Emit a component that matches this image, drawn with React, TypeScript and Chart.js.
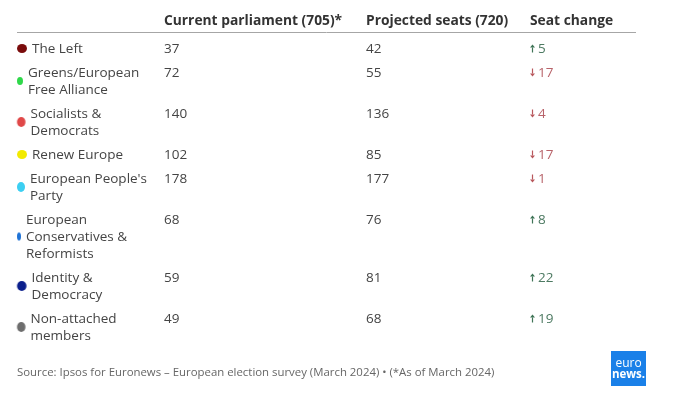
import React, { useEffect, useRef } from "react";
import { Chart, registerables } from "chart.js";

Chart.register(...registerables);

const headers = ["Current parliament (705)*", "Projected seats (720)", "Seat change"];
const partyLines: string[][] = [
  ["The Left"],
  ["Greens/European", "Free Alliance"],
  ["Socialists &", "Democrats"],
  ["Renew Europe"],
  ["European People's", "Party"],
  ["European", "Conservatives &", "Reformists"],
  ["Identity &", "Democracy"],
  ["Non-attached", "members"],
];
const currentSeats = [37, 72, 140, 102, 178, 68, 59, 49];
const projectedSeats = [42, 55, 136, 85, 177, 76, 81, 68];
const seatChange = [5, -17, -4, -17, -1, 8, 22, 19];
const partyColors = ["#7a0c0c", "#2fd84a", "#e04848", "#f2ea00", "#3ccff2", "#1f73d6", "#0b1f8c", "#6e6e6e"];
const dotSizes: [number, number][] = [[10, 9], [6, 8], [8.5, 10], [10, 9], [8, 10], [4, 8], [9.5, 10], [8.5, 10]];
const sourceText = "Source: Ipsos for Euronews – European election survey (March 2024) • (*As of March 2024)";

const FONT = "'Open Sans', 'Noto Sans', sans-serif";
const LINE_H = 17;
const PAD = 3.5;
const FIRST_TOP = 35.5;
const LEFT = 17;
const COL_X = [164, 366, 530];
const TXT_DY = 1.5;

function rowTops(): number[] {
  const tops: number[] = [];
  let t = FIRST_TOP;
  partyLines.forEach((l) => {
    tops.push(t);
    t += l.length * LINE_H + 2 * PAD;
  });
  return tops;
}

function makeDot(color: string, w: number, h: number): HTMLCanvasElement {
  const c = document.createElement("canvas");
  c.width = Math.ceil(w) + 2;
  c.height = Math.ceil(h) + 2;
  const g = c.getContext("2d")!;
  g.fillStyle = color;
  g.beginPath();
  g.ellipse(c.width / 2, c.height / 2, w / 2, h / 2, 0, 0, Math.PI * 2);
  g.fill();
  return c;
}

const tablePlugin = {
  id: "tableText",
  afterDatasetsDraw(chart: any) {
    const ctx = chart.ctx as CanvasRenderingContext2D;
    const xs = chart.scales.x;
    const ys = chart.scales.y;
    const px = (v: number) => xs.getPixelForValue(v);
    const py = (v: number) => ys.getPixelForValue(v);
    ctx.save();
    ctx.textBaseline = "middle";
    ctx.textAlign = "left";
    // header
    ctx.font = `bold 13.8px ${FONT}`;
    ctx.fillStyle = "#333333";
    headers.forEach((h, i) => ctx.fillText(h, px(COL_X[i]), py(19.5 + TXT_DY)));
    ctx.strokeStyle = "#a6a6a6";
    ctx.lineWidth = 1;
    ctx.beginPath();
    ctx.moveTo(px(LEFT), py(32.5));
    ctx.lineTo(px(636), py(32.5));
    ctx.stroke();

    const tops = rowTops();
    ctx.font = `13.5px ${FONT}`;
    partyLines.forEach((lines, i) => {
      const top = tops[i];
      const firstY = top + PAD + LINE_H / 2;
      const labelX = LEFT + dotSizes[i][0] + 5;
      ctx.fillStyle = "#444444";
      lines.forEach((ln, j) => ctx.fillText(ln, px(labelX), py(firstY + j * LINE_H + TXT_DY)));
      ctx.fillText(String(currentSeats[i]), px(COL_X[0]), py(firstY + TXT_DY));
      ctx.fillText(String(projectedSeats[i]), px(COL_X[1]), py(firstY + TXT_DY));
      const ch = seatChange[i];
      const up = ch >= 0;
      const col = up ? "#3e7456" : "#b8575c";
      const ax = px(COL_X[2] + 2.5);
      const ay = py(firstY + 1);
      ctx.strokeStyle = col;
      ctx.fillStyle = col;
      ctx.lineWidth = 1.2;
      ctx.beginPath();
      if (up) {
        ctx.moveTo(ax, ay + 4);
        ctx.lineTo(ax, ay - 1);
        ctx.stroke();
        ctx.beginPath();
        ctx.moveTo(ax - 2.5, ay - 1);
        ctx.lineTo(ax + 2.5, ay - 1);
        ctx.lineTo(ax, ay - 4);
        ctx.closePath();
        ctx.fill();
      } else {
        ctx.moveTo(ax, ay - 4);
        ctx.lineTo(ax, ay + 1);
        ctx.stroke();
        ctx.beginPath();
        ctx.moveTo(ax - 2.5, ay + 1);
        ctx.lineTo(ax + 2.5, ay + 1);
        ctx.lineTo(ax, ay + 4);
        ctx.closePath();
        ctx.fill();
      }
      ctx.fillStyle = up ? "#4d7a62" : "#b8636a";
      ctx.fillText(String(Math.abs(ch)), px(COL_X[2] + 8), py(firstY + TXT_DY));
    });

    // source
    ctx.font = `11.4px ${FONT}`;
    ctx.fillStyle = "#666666";
    ctx.fillText(sourceText, px(LEFT), py(371 + TXT_DY));

    // logo
    ctx.fillStyle = "#1a80e8";
    ctx.fillRect(px(611), py(351), 35, 35);
    ctx.fillStyle = "#ffffff";
    ctx.textAlign = "center";
    ctx.font = `12px ${FONT}`;
    ctx.fillText("euro", px(628.5), py(364));
    ctx.font = `bold 11.5px ${FONT}`;
    ctx.fillText("news.", px(628.5), py(374.5));
    ctx.restore();
  },
};

export default function App() {
  const ref = useRef<HTMLCanvasElement | null>(null);
  useEffect(() => {
    document.body.style.margin = "0";
    const tops = rowTops();
    const points = partyLines.map((l, i) => ({
      x: LEFT + dotSizes[i][0] / 2,
      y: tops[i] + PAD + (l.length * LINE_H) / 2 + 1,
    }));
    const styles = partyColors.map((c, i) => makeDot(c, dotSizes[i][0], dotSizes[i][1]));
    const chart = new Chart(ref.current!, {
      type: "scatter",
      data: {
        datasets: [
          {
            data: points,
            pointStyle: styles as any,
            pointRadius: 5,
            backgroundColor: partyColors,
            borderWidth: 0,
          },
        ],
      },
      options: {
        animation: false,
        responsive: false,
        events: [],
        layout: { padding: 0, autoPadding: false },
        plugins: { legend: { display: false }, tooltip: { enabled: false } },
        scales: {
          x: { type: "linear", min: 0, max: 685, display: false },
          y: { type: "linear", min: 0, max: 401, reverse: true, display: false },
        },
      },
      plugins: [tablePlugin],
    });
    return () => chart.destroy();
  }, []);
  return (
    <div style={{ position: "absolute", left: 0, top: 0, width: 685, height: 401, background: "#fff" }}>
      <canvas ref={ref} width={685} height={401} />
    </div>
  );
}
